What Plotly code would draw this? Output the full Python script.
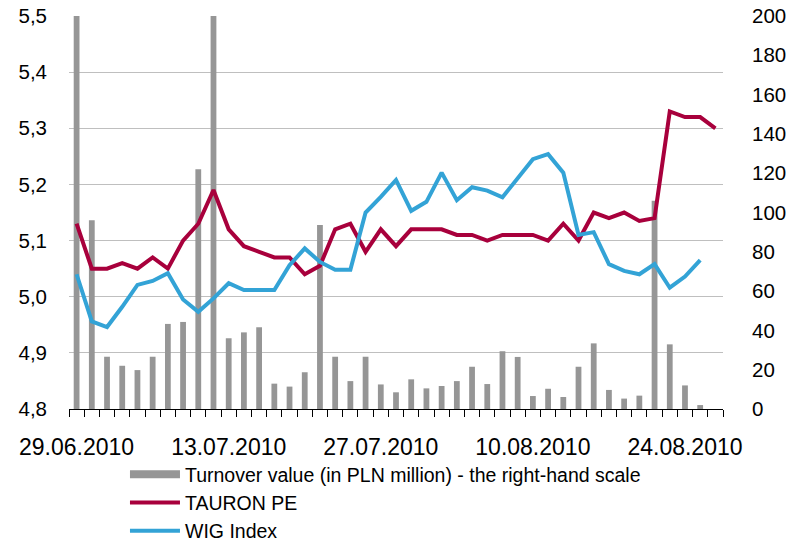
import pandas as pd
import plotly.graph_objects as go

# Trading days (43 sessions starting 29.06.2010)
dates = [d.strftime("%d.%m.%Y") for d in pd.bdate_range("2010-06-29", periods=43)]
tick_labels = ["29.06.2010", "13.07.2010", "27.07.2010", "10.08.2010", "24.08.2010"]

# Turnover value (PLN million) - right-hand scale
turnover = [215, 96, 26.6, 22, 19.8, 26.6, 43.3, 44.3, 122, 230,
            36, 39, 41.6, 12.9, 11.4, 18.7, 93.6, 26.6, 14.2, 26.6,
            12.5, 8.5, 15.1, 10.5, 11.7, 14.2, 21.5, 12.7, 29.4, 26.5,
            6.6, 10.3, 6.1, 21.5, 33.4, 9.7, 5.3, 6.8, 106, 32.9,
            12, 2, None]

# TAURON PE share price (PLN) - left-hand scale
tauron = [5.13, 5.05, 5.05, 5.06, 5.05, 5.07, 5.05, 5.10, 5.13, 5.19,
          5.12, 5.09, 5.08, 5.07, 5.07, 5.04, 5.055, 5.12, 5.13, 5.08,
          5.12, 5.09, 5.12, 5.12, 5.12, 5.11, 5.11, 5.10, 5.11, 5.11,
          5.11, 5.10, 5.13, 5.10, 5.15, 5.14, 5.15, 5.135, 5.14, 5.33,
          5.32, 5.32, 5.30]

# WIG Index (rebased to the left-hand scale)
wig = [5.040, 4.956, 4.946, 4.982, 5.021, 5.028, 5.042, 4.995, 4.973, 4.997,
       5.024, 5.012, 5.012, 5.012, 5.056, 5.086, 5.062, 5.048, 5.048, 5.150,
       5.178, 5.208, 5.153, 5.169, 5.221, 5.172, 5.195, 5.189, 5.177, 5.211,
       5.245, 5.254, 5.221, 5.110, 5.115, 5.058, 5.046, 5.040, 5.058, 5.016,
       5.036, 5.065, None]

ticktext = [d if d in tick_labels else "" for d in dates]

FONT = "Liberation Sans, Arial, sans-serif"
BAR_NAME = "Turnover value (in PLN million) - the right-hand scale"
BAR_COLOR = "#969696"

fig = go.Figure()
fig.add_trace(go.Bar(
    x=dates, y=turnover, name=BAR_NAME, legendgroup="turnover", showlegend=False,
    marker=dict(color=BAR_COLOR, line=dict(width=0)), yaxis="y",
))
# legend entry for the bars, drawn as a wide grey key like the original
fig.add_trace(go.Scatter(
    x=[dates[0]], y=[None], name=BAR_NAME, legendgroup="turnover", mode="lines",
    line=dict(color=BAR_COLOR, width=8), yaxis="y", hoverinfo="skip",
))
fig.add_trace(go.Scatter(
    x=dates, y=tauron, name="TAURON PE", mode="lines",
    line=dict(color="#A8003C", width=4), yaxis="y2",
))
fig.add_trace(go.Scatter(
    x=dates, y=wig, name="WIG Index", mode="lines",
    line=dict(color="#33A3D6", width=4), yaxis="y2", connectgaps=False,
))

fig.update_layout(
    width=786, height=541,
    margin=dict(l=69, r=63, t=16, b=132, autoexpand=False),
    paper_bgcolor="white", plot_bgcolor="white",
    separators=", ",
    font=dict(family=FONT, size=20, color="#000000"),
    bargap=0.62,
    showlegend=True,
    legend=dict(
        orientation="v", xref="container", yref="container",
        x=0.159, xanchor="left", y=0.159, yanchor="top",
        font=dict(family=FONT, size=19.5, color="#000000"),
        itemwidth=50, tracegroupgap=0, bgcolor="rgba(0,0,0,0)",
    ),
    xaxis=dict(
        type="category", tickmode="array", tickvals=dates, ticktext=ticktext,
        tickson="boundaries", ticks="outside", ticklen=7, tickcolor="#000000",
        showline=True, linecolor="#000000", linewidth=1, showgrid=False,
        tickangle=0, tickfont=dict(size=23), ticklabelstandoff=17,
        automargin=False,
    ),
    yaxis=dict(
        side="right", range=[0, 200], dtick=20, showgrid=False,
        showline=False, ticks="", zeroline=False, ticklabelstandoff=28,
        tickfont=dict(size=20.5), automargin=False, ticklabeloverflow="allow",
    ),
    yaxis2=dict(
        side="left", overlaying="y", range=[4.8, 5.5], dtick=0.1, tickformat=".1f",
        showgrid=True, gridcolor="#BFBFBF", gridwidth=1, showline=False, ticks="",
        zeroline=False, ticklabelstandoff=21, tickfont=dict(size=20.5),
        automargin=False, ticklabeloverflow="allow",
    ),
)

fig.write_html(
    "out.html",
    config={"displayModeBar": False},
    post_script="document.body.style.margin='0px';",
)
